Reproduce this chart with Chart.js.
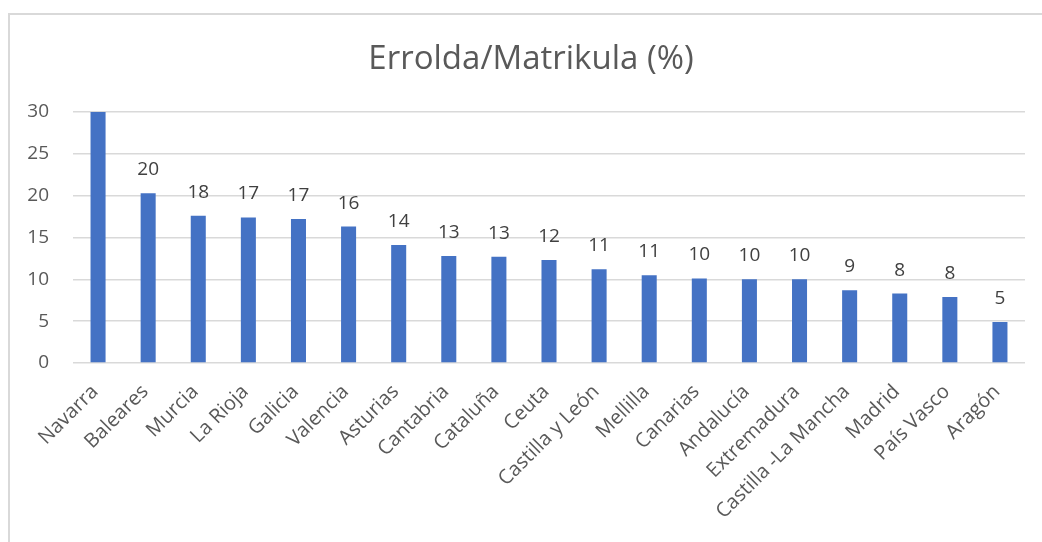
<!DOCTYPE html>
<html>
<head>
<meta charset="utf-8">
<script src="https://cdn.jsdelivr.net/npm/chart.js@4"></script>
<style>
  html, body { margin:0; padding:0; background:#fff; }
  #wrap { position:relative; width:1042px; height:542px; overflow:hidden; }
  #frame { position:absolute; left:8px; top:13px; width:1100px; height:600px;
           border-left:2px solid #d9d9d9; border-top:2px solid #d9d9d9; box-sizing:border-box; }
  canvas { position:absolute; left:0; top:0; }
</style>
</head>
<body>
<div id="wrap">
  <div id="frame"></div>
  <canvas id="c" width="1042" height="542"></canvas>
</div>
<script>
const title = "Errolda/Matrikula (%)";
const categories = ["Navarra","Baleares","Murcia","La Rioja","Galicia","Valencia","Asturias","Cantabria","Cataluña","Ceuta","Castilla y León","Mellilla","Canarias","Andalucía","Extremadura","Castilla -La Mancha","Madrid","País Vasco","Aragón"];
const values = [30, 20.3, 17.6, 17.4, 17.2, 16.3, 14.1, 12.8, 12.7, 12.3, 11.2, 10.5, 10.1, 10.0, 10.0, 8.7, 8.3, 7.9, 4.9];
const yTicks = [0, 5, 10, 15, 20, 25, 30];

const FONT = "'Open Sans', 'Noto Sans', sans-serif";
const yMax = yTicks[yTicks.length - 1];

const labelPlugin = {
  id: 'valueLabels',
  afterDatasetsDraw(chart) {
    const ctx = chart.ctx;
    const meta = chart.getDatasetMeta(0);
    ctx.save();
    ctx.font = "19px " + FONT;
    ctx.fillStyle = "#404040";
    ctx.textAlign = "center";
    ctx.textBaseline = "alphabetic";
    meta.data.forEach((bar, i) => {
      const v = values[i];
      if (v >= yMax) return; // clipped bar: label hidden as in reference
      ctx.fillText(String(Math.round(v)), bar.x, bar.y - 18);
    });
    ctx.restore();
  }
};

const titlePlugin = {
  id: 'titleText',
  afterDraw(chart) {
    const ctx = chart.ctx;
    ctx.save();
    ctx.font = "33px " + FONT;
    ctx.fillStyle = "#595959";
    ctx.textAlign = "center";
    ctx.textBaseline = "alphabetic";
    ctx.fillText(title, 531, 69);
    ctx.restore();
  }
};

new Chart(document.getElementById('c'), {
  type: 'bar',
  data: {
    labels: categories,
    datasets: [{
      data: values,
      backgroundColor: '#4472C4',
      borderWidth: 0,
      barPercentage: 0.6,
      categoryPercentage: 0.5
    }]
  },
  options: {
    responsive: false,
    animation: false,
    devicePixelRatio: 1,
    layout: { padding: { left: 0, right: 17, top: 112, bottom: 0 } },
    plugins: { legend: { display: false }, tooltip: { enabled: false } },
    scales: {
      y: {
        min: 0, max: yMax,
        afterFit(s) { s.width = 73; },
        afterBuildTicks(s) { s.ticks = yTicks.map(v => ({ value: v })); },
        ticks: { color: '#595959', font: { family: FONT, size: 19 }, padding: 24 },
        grid: { color: '#d9d9d9', lineWidth: 1.5, drawTicks: false },
        border: { display: false }
      },
      x: {
        afterFit(s) { s.height = 179; },
        ticks: { color: '#595959', font: { family: FONT, size: 20 }, minRotation: 45, maxRotation: 45, autoSkip: false, padding: 9, labelOffset: -3 },
        grid: { display: false },
        border: { display: false }
      }
    }
  },
  plugins: [labelPlugin, titlePlugin]
});
</script>
</body>
</html>
